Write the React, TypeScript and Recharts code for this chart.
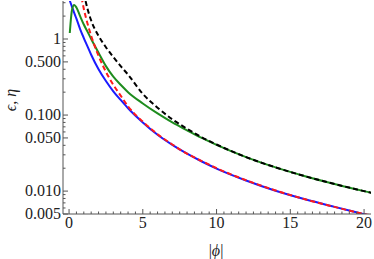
import React from 'react'
import { LineChart, Line, XAxis, YAxis } from 'recharts'

// |phi| sample points and the four curves (null = not drawn)
const phi = [0, 0.05, 0.1, 0.2, 0.35, 0.5, 0.75, 1, 1.25, 1.5, 2, 2.5, 3, 3.5, 4, 5, 6, 7, 8, 9, 10, 12, 14, 16, 18, 20, 20.5]
const blueVals = [3.4, 3.2, 3.0, 2.65, 2.2, 1.85, 1.35, 1.03, 0.8, 0.62, 0.4, 0.28, 0.205, 0.158, 0.123, 0.08, 0.055, 0.0405, 0.031, 0.0245, 0.0198, 0.0138, 0.0101, 0.0078, 0.0062, 0.00497, 0.0047]
const greenVals = [null, 1.2, 1.6, 2.4, 2.8, 2.6, 2.0, 1.55, 1.25, 1.0, 0.66, 0.44, 0.32, 0.25, 0.2, 0.142, 0.105, 0.08, 0.063, 0.05, 0.0405, 0.028, 0.0205, 0.0157, 0.0124, 0.01, 0.0095]
const redVals = [null, null, null, null, null, null, 4.5, 2.5, 1.6, 1.1, 0.6, 0.37, 0.25, 0.18, 0.13, 0.082, 0.056, 0.041, 0.031, 0.0248, 0.02, 0.0139, 0.0102, 0.0078, 0.0062, 0.005, 0.0048]
const blackVals = [null, null, null, null, null, null, null, 4.0, 2.5, 1.75, 1.1, 0.78, 0.58, 0.44, 0.34, 0.19, 0.125, 0.088, 0.066, 0.051, 0.041, 0.028, 0.0205, 0.0157, 0.0124, 0.01, 0.0095]

const xMajor = [0, 5, 10, 15, 20]
const xTicks = Array.from({ length: 41 }, (_, i) => i * 0.5)
const yMajor = [0.005, 0.01, 0.05, 0.1, 0.5, 1]
const yMajorLabels = ['0.005', '0.010', '0.050', '0.100', '0.500', '1']
const yMinor = [0.006, 0.007, 0.008, 0.009, 0.02, 0.03, 0.04, 0.06, 0.07, 0.08, 0.09, 0.2, 0.3, 0.4, 0.6, 0.7, 0.8, 0.9, 2, 3]
const yTicks = [...yMajor, ...yMinor].sort((a, b) => a - b)

const data = phi.map((p, i) => ({
  phi: p,
  blue: blueVals[i],
  green: greenVals[i],
  red: redVals[i],
  black: blackVals[i],
}))

const frame = '#555'
const serif = 'Liberation Serif'

const BottomTick = (props: any) => {
  const { x, y, payload } = props
  const major = xMajor.includes(payload.value)
  return (
    <g>
      <line x1={x} x2={x} y1={y} y2={y - (major ? 5 : 2.5)} stroke={frame} />
      {major && (
        <text x={x} y={y + 14} textAnchor="middle" fontFamily={serif} fontSize={16} fill="#222">
          {payload.value}
        </text>
      )}
    </g>
  )
}

const TopTick = (props: any) => {
  const { x, y, payload } = props
  const major = xMajor.includes(payload.value)
  return <line x1={x} x2={x} y1={y} y2={y + (major ? 5 : 2.5)} stroke={frame} />
}

const LeftTick = (props: any) => {
  const { x, y, payload } = props
  const idx = yMajor.indexOf(payload.value)
  const major = idx >= 0
  return (
    <g>
      <line x1={x} x2={x + (major ? 5 : 2.5)} y1={y} y2={y} stroke={frame} />
      {major && (
        <text x={x - 2} y={y + 5} textAnchor="end" fontFamily={serif} fontSize={16} fill="#222">
          {yMajorLabels[idx]}
        </text>
      )}
    </g>
  )
}

const RightTick = (props: any) => {
  const { x, y, payload } = props
  const major = yMajor.includes(payload.value)
  return <line x1={x} x2={x - (major ? 5 : 2.5)} y1={y} y2={y} stroke={frame} />
}

export default function App() {
  return (
    <div style={{ position: 'absolute', left: 0, top: 0, width: 374, height: 259, background: '#fff', fontFamily: serif }}>
      <LineChart width={374} height={259} data={data} margin={{ top: 1, right: 3, left: 0, bottom: 0 }}>
        <XAxis
          dataKey="phi"
          type="number"
          domain={[-0.41, 20.47]}
          allowDataOverflow
          ticks={xTicks}
          interval={0}
          tick={<BottomTick />}
          tickSize={0}
          tickMargin={0}
          tickLine={false}
          axisLine={{ stroke: frame }}
          height={45}
        />
        <XAxis
          xAxisId="top"
          dataKey="phi"
          type="number"
          orientation="top"
          domain={[-0.41, 20.47]}
          allowDataOverflow
          ticks={xTicks}
          interval={0}
          tick={<TopTick />}
          tickSize={0}
          tickMargin={0}
          tickLine={false}
          axisLine={{ stroke: frame }}
          height={0}
        />
        <YAxis
          scale="log"
          domain={[0.005, 3.16]}
          allowDataOverflow
          ticks={yTicks}
          interval={0}
          tick={<LeftTick />}
          tickSize={0}
          tickMargin={0}
          tickLine={false}
          axisLine={{ stroke: frame }}
          width={63}
        />
        <YAxis
          yAxisId="right"
          orientation="right"
          scale="log"
          domain={[0.005, 3.16]}
          allowDataOverflow
          ticks={yTicks}
          interval={0}
          tick={<RightTick />}
          tickSize={0}
          tickMargin={0}
          tickLine={false}
          axisLine={{ stroke: frame }}
          width={0}
        />
        <Line type="monotone" dataKey="blue" stroke="#1a1aff" strokeWidth={2} dot={false} isAnimationActive={false} />
        <Line type="monotone" dataKey="green" stroke="#1e8c1e" strokeWidth={2} dot={false} isAnimationActive={false} />
        <Line type="monotone" dataKey="red" stroke="#ff1a1a" strokeWidth={2} strokeDasharray="5 3" dot={false} isAnimationActive={false} />
        <Line type="monotone" dataKey="black" stroke="#000" strokeWidth={2} strokeDasharray="5 3" dot={false} isAnimationActive={false} />
        <text x={216} y={250} textAnchor="middle" dominantBaseline="central" fontFamily={serif} fontSize={16} fill="#222">
          |<tspan fontStyle="italic">ϕ</tspan>|
        </text>
        <text
          x={10}
          y={100}
          textAnchor="middle"
          dominantBaseline="central"
          fontFamily={serif}
          fontSize={16}
          fill="#222"
          transform="rotate(-90 10 100)"
        >
          <tspan fontStyle="italic">ϵ</tspan>, <tspan fontStyle="italic">η</tspan>
        </text>
      </LineChart>
    </div>
  )
}
